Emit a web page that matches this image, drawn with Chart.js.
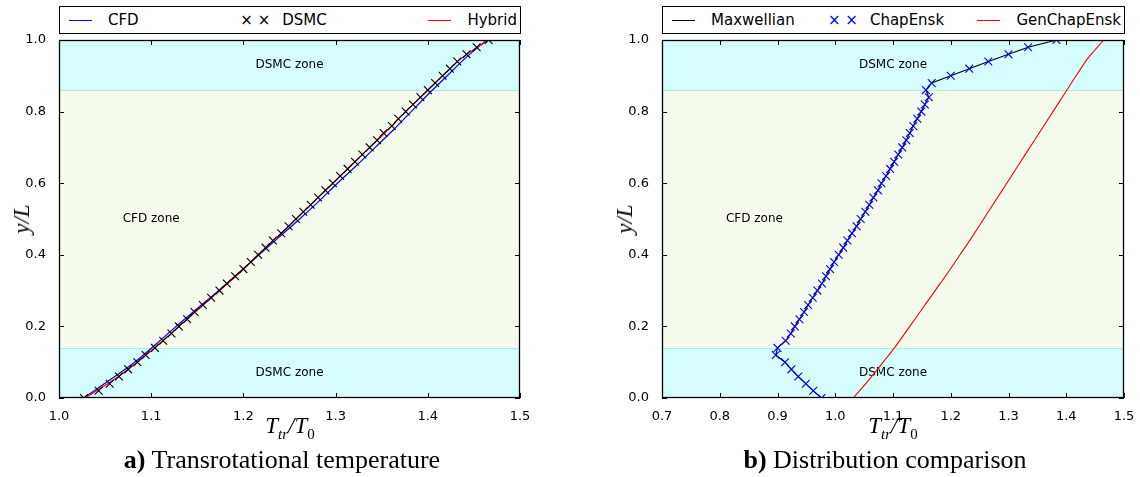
<!DOCTYPE html>
<html><head><meta charset="utf-8">
<script src="https://cdn.jsdelivr.net/npm/chart.js@4.4.0/dist/chart.umd.min.js"></script>
<style>
body{margin:0;background:#fff;width:1140px;height:477px;position:relative;overflow:hidden;font-family:"DejaVu Sans",sans-serif;color:#000;}
canvas{position:absolute;top:0;}
.legend{position:absolute;top:6px;height:28px;border:1px solid #000;box-sizing:border-box;display:flex;justify-content:space-between;align-items:center;padding:0 3px 0 9px;font-size:15px;background:#fff;}
.item{display:flex;align-items:center;white-space:nowrap;}
.swatch{display:inline-block;width:23px;height:0;border-top:1px solid;margin-right:16px;}
.marks{margin-right:12px;font-size:15px;}
.xt{position:absolute;font-family:"Liberation Serif",serif;font-style:italic;font-size:23px;white-space:nowrap;transform:translateX(-50%);}
.xt sub{font-size:15px;}
.xt sub.up{font-style:normal;}
.yt{position:absolute;font-family:"Liberation Serif",serif;font-style:italic;font-size:23px;white-space:nowrap;transform:translate(-50%,-50%) rotate(-90deg);}
.cap{position:absolute;font-family:"Liberation Serif",serif;font-size:26px;white-space:nowrap;transform:translateX(-50%);}
</style>
</head><body>
<canvas id="ca" width="540" height="420" style="left:0"></canvas>
<canvas id="cb" width="540" height="420" style="left:600px"></canvas>

<div class="legend" style="left:59px;width:462px">
  <span class="item"><span class="swatch" style="border-color:#0000ff"></span>CFD</span>
  <span class="item"><span class="marks">× ×</span>DSMC</span>
  <span class="item"><span class="swatch" style="border-color:#ff0000"></span>Hybrid</span>
</div>
<div class="legend" style="left:662px;width:463px">
  <span class="item"><span class="swatch" style="border-color:#000"></span>Maxwellian</span>
  <span class="item"><span class="marks" style="color:#0000ff">× ×</span>ChapEnsk</span>
  <span class="item"><span class="swatch" style="border-color:#ff0000"></span>GenChapEnsk</span>
</div>

<div class="xt" style="left:290px;top:413px">T<sub>tr</sub>/T<sub class="up">0</sub></div>
<div class="xt" style="left:893px;top:413px">T<sub>tr</sub>/T<sub class="up">0</sub></div>
<div class="yt" style="left:22px;top:219px">y/L</div>
<div class="yt" style="left:625px;top:219px">y/L</div>
<div class="cap" style="left:282px;top:445px"><b>a)</b> Transrotational temperature</div>
<div class="cap" style="left:885px;top:445px"><b>b)</b> Distribution comparison</div>

<script>
// ---------- data ----------
const yTicks   = [0.0, 0.2, 0.4, 0.6, 0.8, 1.0];
const xTicksA  = [1.0, 1.1, 1.2, 1.3, 1.4, 1.5];
const xTicksB  = [0.7, 0.8, 0.9, 1.0, 1.1, 1.2, 1.3, 1.4, 1.5];
const zoneBounds = [0.0, 0.14, 0.86, 1.0];
const zoneNames  = ['DSMC zone', 'CFD zone', 'DSMC zone'];

// y/L positions of marker samples and of line samples
const yMarkers = [0.00,0.02,0.04,0.06,0.08,0.10,0.12,0.14,0.16,0.18,0.20,0.22,0.24,0.26,0.28,0.30,0.32,0.34,0.36,0.38,0.40,0.42,0.44,0.46,0.48,0.50,0.52,0.54,0.56,0.58,0.60,0.62,0.64,0.66,0.68,0.70,0.72,0.74,0.76,0.78,0.80,0.82,0.84,0.86,0.88,0.90,0.92,0.94,0.96,0.98,1.00];
const yLines   = [0.00,0.05,0.10,0.15,0.20,0.25,0.30,0.35,0.40,0.45,0.50,0.55,0.60,0.65,0.70,0.75,0.80,0.85,0.90,0.95,1.00];

// panel a) T_tr/T_0
const cfdT    = [1.027,1.055,1.082,1.105,1.127,1.150,1.173,1.195,1.217,1.239,1.261,1.282,1.302,1.323,1.343,1.363,1.382,1.401,1.421,1.441,1.464];
const hybridT = [1.028,1.059,1.085,1.108,1.130,1.152,1.174,1.196,1.216,1.237,1.257,1.277,1.297,1.317,1.337,1.357,1.376,1.396,1.416,1.437,1.466];
const dsmcT   = [1.027,1.043,1.055,1.065,1.075,1.085,1.094,1.104,1.113,1.122,1.130,1.139,1.147,1.156,1.165,1.174,1.182,1.191,1.200,1.208,1.216,1.224,1.232,1.241,1.249,1.257,1.265,1.273,1.281,1.289,1.297,1.305,1.313,1.321,1.329,1.337,1.345,1.352,1.361,1.368,1.376,1.384,1.392,1.400,1.408,1.416,1.424,1.432,1.442,1.453,1.466];

// panel b) T_tr/T_0
const maxwellianT = [0.976,0.962,0.949,0.936,0.924,0.913,0.897,0.900,0.914,0.923,0.930,0.938,0.946,0.953,0.961,0.969,0.977,0.984,0.991,0.998,1.006,1.014,1.021,1.029,1.037,1.044,1.052,1.059,1.066,1.074,1.080,1.088,1.095,1.102,1.109,1.116,1.123,1.129,1.135,1.142,1.149,1.155,1.162,1.157,1.167,1.200,1.232,1.265,1.300,1.334,1.383];
const chapEnskT   = [0.976,0.962,0.949,0.936,0.924,0.913,0.897,0.900,0.914,0.923,0.930,0.938,0.946,0.953,0.961,0.969,0.977,0.984,0.991,0.998,1.006,1.014,1.021,1.029,1.037,1.044,1.052,1.059,1.066,1.074,1.080,1.088,1.095,1.102,1.109,1.116,1.123,1.129,1.135,1.142,1.149,1.155,1.162,1.157,1.167,1.200,1.232,1.265,1.300,1.334,1.383];
const genChapEnskT = [1.031,1.058,1.083,1.107,1.129,1.151,1.173,1.195,1.216,1.237,1.257,1.277,1.297,1.317,1.337,1.357,1.377,1.397,1.417,1.438,1.465];

// ---------- helpers ----------
const pts = (xs, ys) => xs.map((v, i) => ({x: v, y: ys[i]}));

const zonePlugin = {
  id: 'zones',
  beforeDatasetsDraw(chart) {
    const {ctx, chartArea: a, scales: {x, y}} = chart;
    const fills = ['rgb(214,253,253)', 'rgb(244,250,236)', 'rgb(214,253,253)'];
    ctx.save();
    for (let i = 0; i < 3; i++) {
      const y0 = y.getPixelForValue(zoneBounds[i]);
      const y1 = y.getPixelForValue(zoneBounds[i + 1]);
      ctx.fillStyle = fills[i];
      ctx.fillRect(a.left, y1, a.right - a.left, y0 - y1);
    }
    ctx.strokeStyle = 'rgb(165,240,222)';
    ctx.lineWidth = 1;
    ctx.beginPath();
    [zoneBounds[1], zoneBounds[2]].forEach(v => {
      const py = Math.round(y.getPixelForValue(v)) + 0.5;
      ctx.moveTo(a.left, py); ctx.lineTo(a.right, py);
    });
    ctx.stroke();
    ctx.fillStyle = '#000';
    ctx.font = '12px "DejaVu Sans"';
    ctx.textAlign = 'center';
    ctx.textBaseline = 'middle';
    const fx = [0.5, 0.2, 0.5];
    for (let i = 0; i < 3; i++) {
      const xv = x.min + fx[i] * (x.max - x.min);
      const yv = (zoneBounds[i] + zoneBounds[i + 1]) / 2;
      ctx.fillText(zoneNames[i], x.getPixelForValue(xv), y.getPixelForValue(yv));
    }
    ctx.restore();
  }
};

const framePlugin = {
  id: 'frame',
  afterDatasetsDraw(chart) {
    const {ctx, chartArea: a, scales: {x, y}} = chart;
    ctx.save();
    ctx.strokeStyle = '#000';
    ctx.lineWidth = 1;
    ctx.beginPath();
    const L = 5;
    x.ticks.forEach(t => {
      const p = Math.round(x.getPixelForValue(t.value)) + 0.5;
      ctx.moveTo(p, a.bottom); ctx.lineTo(p, a.bottom - L);
      ctx.moveTo(p, a.top); ctx.lineTo(p, a.top + L);
    });
    y.ticks.forEach(t => {
      const p = Math.round(y.getPixelForValue(t.value)) + 0.5;
      ctx.moveTo(a.left, p); ctx.lineTo(a.left + L, p);
      ctx.moveTo(a.right, p); ctx.lineTo(a.right - L, p);
    });
    ctx.stroke();
    ctx.lineWidth = 1.3;
    ctx.strokeRect(a.left + 0.5, a.top + 0.5, a.right - a.left - 1, a.bottom - a.top - 1);
    ctx.restore();
  }
};

function makeOptions(xmin, xmax, xTicks, yWidth, padRight) {
  return {
    responsive: false,
    animation: false,
    devicePixelRatio: 1,
    layout: {padding: {top: 40, right: padRight, bottom: 0, left: 0}},
    plugins: {legend: {display: false}, tooltip: {enabled: false}},
    scales: {
      x: {
        type: 'linear', min: xmin, max: xmax,
        grid: {display: false}, border: {display: false},
        afterBuildTicks: s => { s.ticks = xTicks.map(v => ({value: v})); },
        afterFit: s => { s.height = 22; },
        ticks: {autoSkip: false, maxRotation: 0, padding: 3, color: '#000',
                font: {family: 'DejaVu Sans', size: 13},
                callback: v => Number(v).toFixed(1)}
      },
      y: {
        type: 'linear', min: 0, max: 1,
        grid: {display: false}, border: {display: false},
        afterBuildTicks: s => { s.ticks = yTicks.map(v => ({value: v})); },
        afterFit: s => { s.width = yWidth; },
        ticks: {autoSkip: false, padding: 5, color: '#000',
                font: {family: 'DejaVu Sans', size: 13},
                callback: v => Number(v).toFixed(1)}
      }
    }
  };
}

new Chart(document.getElementById('ca'), {
  type: 'scatter',
  data: {datasets: [
    {label: 'DSMC', data: pts(dsmcT, yMarkers), showLine: false, pointStyle: 'crossRot',
     pointRadius: 5.5, borderColor: '#000', borderWidth: 1.1, clip: 0},
    {label: 'Hybrid', data: pts(hybridT, yLines), showLine: true, pointRadius: 0,
     borderColor: '#ff0000', borderWidth: 1.2, cubicInterpolationMode: 'monotone', clip: 0},
    {label: 'CFD', data: pts(cfdT, yLines), showLine: true, pointRadius: 0,
     borderColor: '#0000ff', borderWidth: 1.2, cubicInterpolationMode: 'monotone', clip: 0}
  ]},
  options: makeOptions(1.0, 1.5, xTicksA, 59, 20),
  plugins: [zonePlugin, framePlugin]
});

new Chart(document.getElementById('cb'), {
  type: 'scatter',
  data: {datasets: [
    {label: 'ChapEnsk', data: pts(chapEnskT, yMarkers), showLine: false, pointStyle: 'crossRot',
     pointRadius: 5.5, borderColor: '#0000ff', borderWidth: 1.1, clip: 0},
    {label: 'Maxwellian', data: pts(maxwellianT, yMarkers), showLine: true, pointRadius: 0,
     borderColor: '#000', borderWidth: 1.1, clip: 0},
    {label: 'GenChapEnsk', data: pts(genChapEnskT, yLines), showLine: true, pointRadius: 0,
     borderColor: '#ff0000', borderWidth: 1.1, cubicInterpolationMode: 'monotone', clip: 0}
  ]},
  options: makeOptions(0.7, 1.5, xTicksB, 62, 16),
  plugins: [zonePlugin, framePlugin]
});
</script>
</body></html>
